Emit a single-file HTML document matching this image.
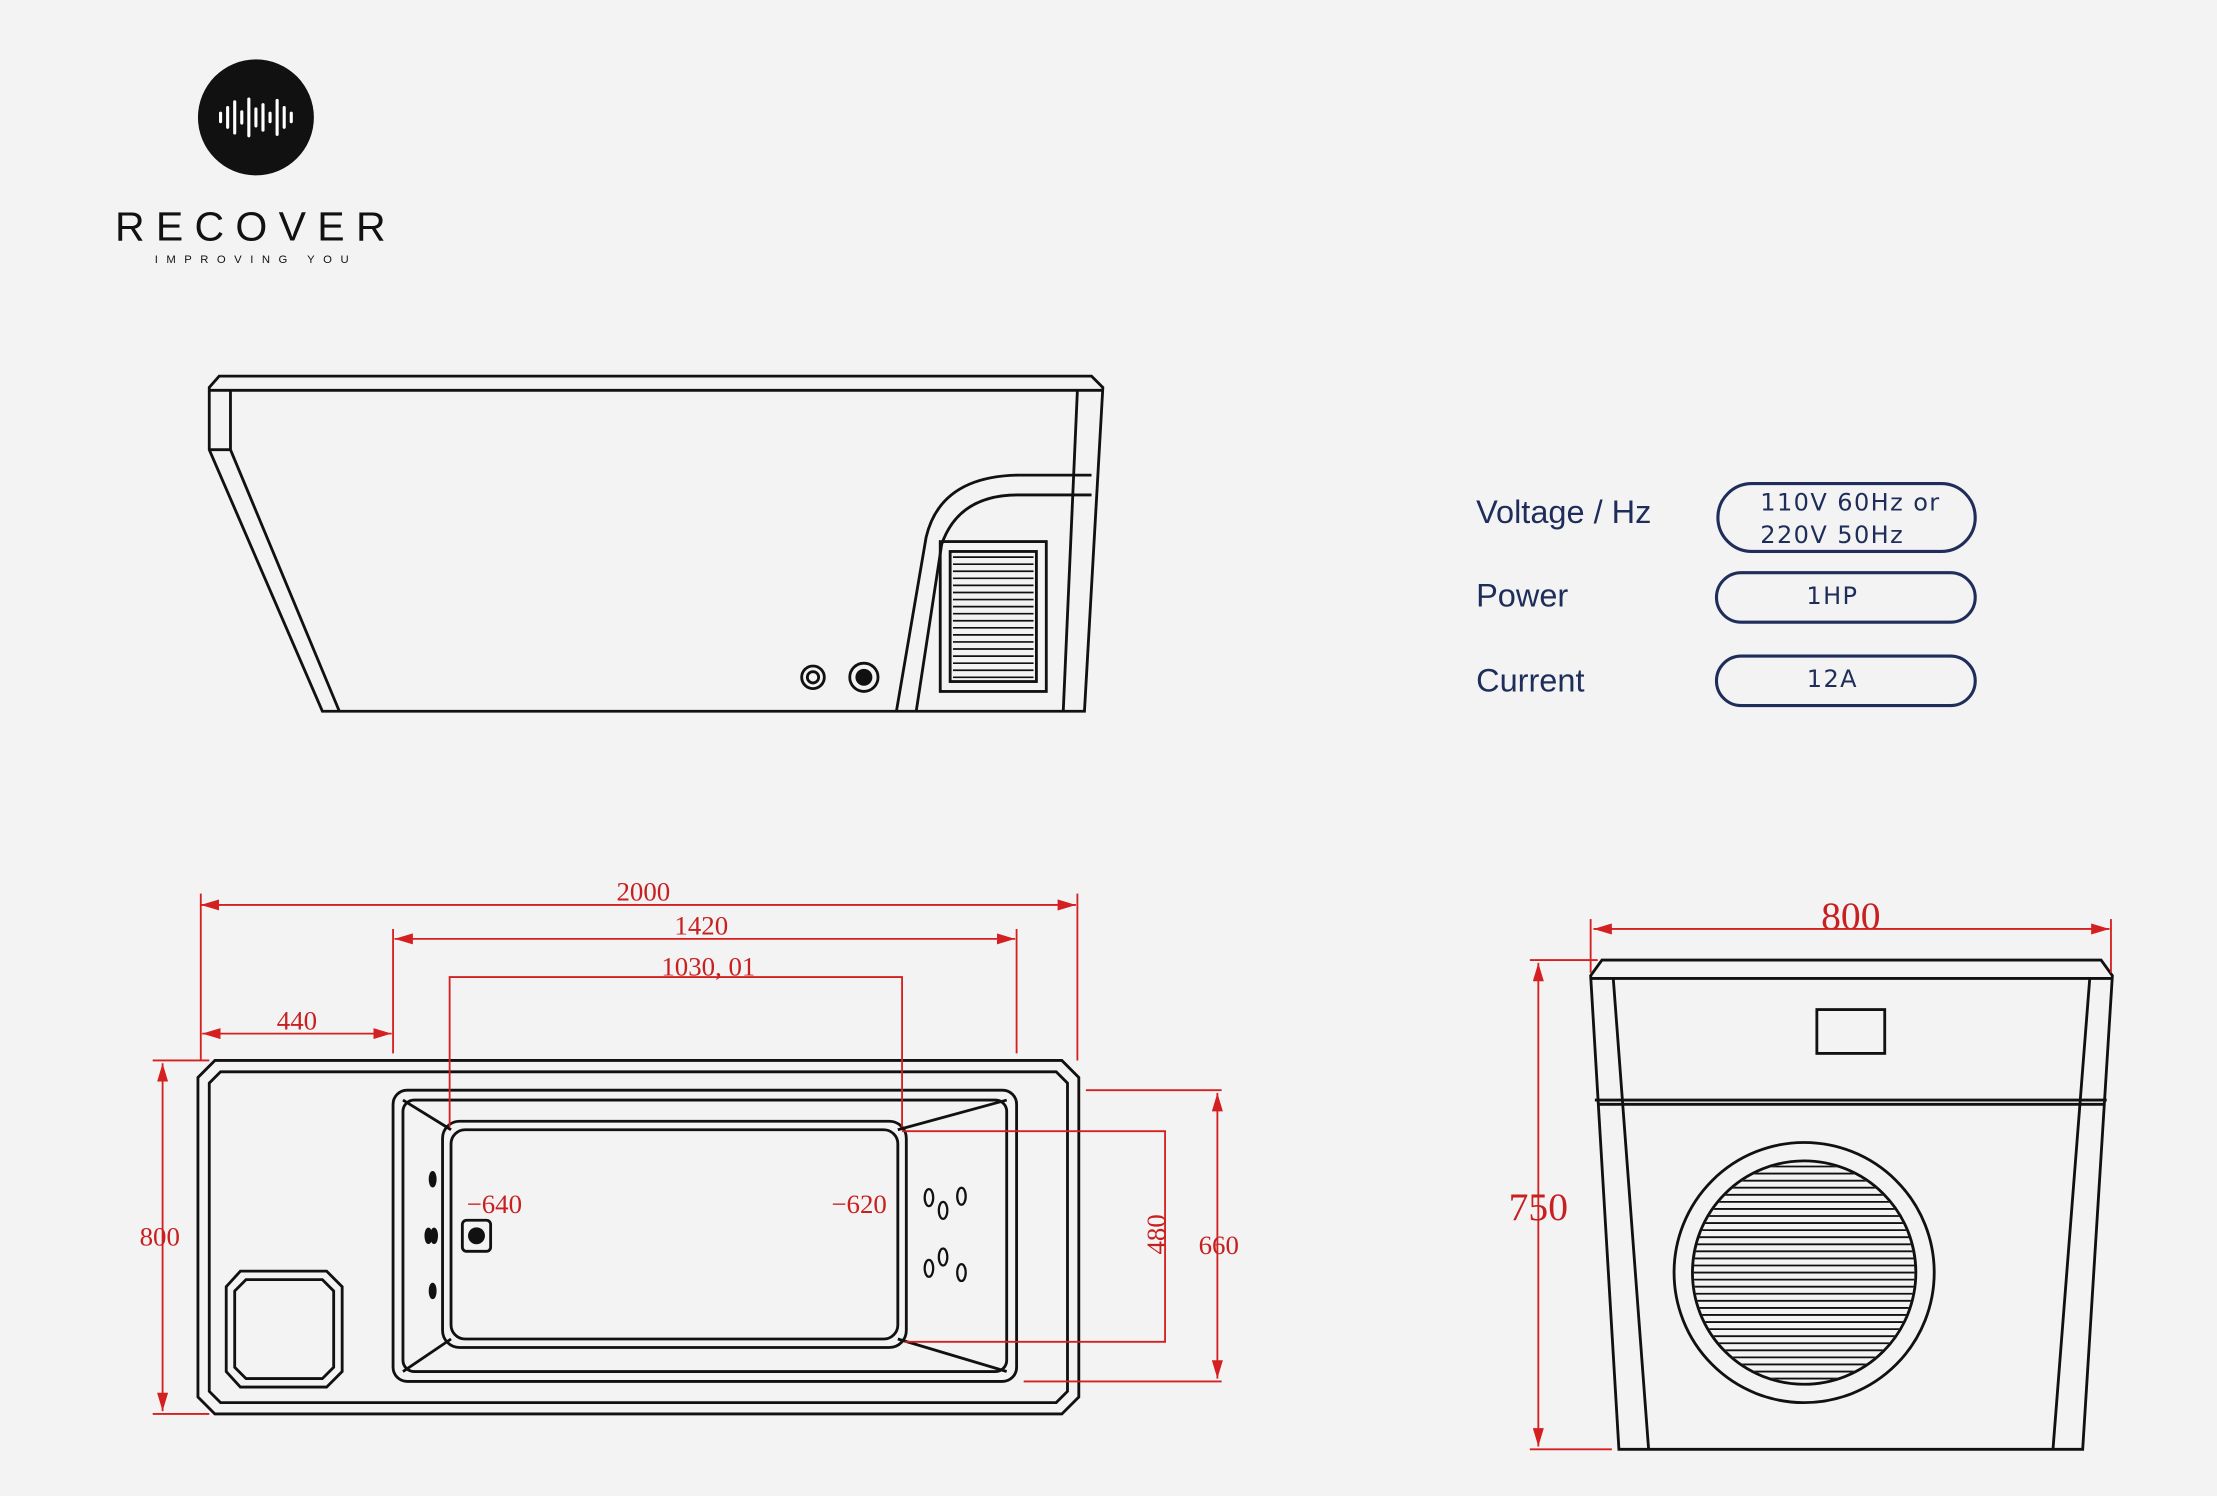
<!DOCTYPE html>
<html><head><meta charset="utf-8"><style>
html,body{margin:0;padding:0;background:#f3f3f3;}
svg{display:block}
.l{fill:none;stroke:#111;stroke-width:2}
.r{fill:none;stroke:#d42020;stroke-width:1.3}
.rt{fill:#c82020;font-family:"Liberation Serif",serif;font-size:19px}
.nv{fill:#1f2d5a;font-family:"Liberation Sans",sans-serif;font-size:23px}
.pl{fill:none;stroke:#1f2d5a;stroke-width:2.2}
.pt{fill:#1f2d5a;font-family:"DejaVu Sans","Liberation Sans",sans-serif;font-size:17px;letter-spacing:1px}
</style></head><body>
<svg width="2217" height="1496" viewBox="0 0 1568 1058" xmlns="http://www.w3.org/2000/svg">
<rect width="1568" height="1058" fill="#f3f3f3"/>
<defs>
<marker id="a" markerWidth="10" markerHeight="6" refX="10" refY="3" orient="auto-start-reverse"><path d="M0,0 L10,3 L0,6 Z" fill="#d42020"/></marker>
<clipPath id="cc"><circle cx="1276" cy="900" r="78"/></clipPath>
</defs>
<circle cx="181" cy="83" r="41" fill="#111"/>
<g stroke="#fff" stroke-width="2.2" stroke-linecap="round">
<line x1="156" y1="80" x2="156" y2="86"/><line x1="161" y1="76" x2="161" y2="90"/><line x1="166" y1="72" x2="166" y2="94"/>
<line x1="171" y1="79" x2="171" y2="87"/><line x1="176" y1="70" x2="176" y2="96"/><line x1="181" y1="77" x2="181" y2="89"/>
<line x1="186" y1="74" x2="186" y2="92"/><line x1="191" y1="80" x2="191" y2="86"/><line x1="196" y1="71" x2="196" y2="95"/>
<line x1="201" y1="76" x2="201" y2="90"/><line x1="206" y1="80" x2="206" y2="86"/></g>
<text x="181" y="170" text-anchor="middle" font-family="Liberation Sans,sans-serif" font-size="29" letter-spacing="8" fill="#111">RECOVER</text>
<text x="181" y="186" text-anchor="middle" font-family="Liberation Sans,sans-serif" font-size="8" letter-spacing="6" fill="#111">IMPROVING YOU</text>
<path class="l" d="M155,266 L772,266 L780,274 L767,503 L228,503 L148,318 L148,274 Z"/>
<path class="l" d="M148,276 L780,276"/>
<path class="l" d="M163,276 L163,318 L240,503"/>
<path class="l" d="M148,318 L163,318"/>
<path class="l" d="M762,276 L752,503"/>
<path class="l" d="M634,503 L655,380 Q665,337 720,336 L772,336"/>
<path class="l" d="M648,503 L666,385 Q678,350 720,350 L772,350"/>
<rect class="l" x="665" y="383" width="75" height="106"/>
<rect class="l" x="672" y="390" width="61" height="92"/>
<g stroke="#111" stroke-width="1.2">
<path d="M674,394H731M674,399H731M674,404H731M674,409H731M674,414H731M674,419H731M674,424H731M674,429H731M674,434H731M674,439H731M674,444H731M674,449H731M674,454H731M674,459H731M674,464H731M674,469H731M674,474H731M674,479H731"/></g>
<circle class="l" cx="575" cy="479" r="8"/><circle class="l" cx="575" cy="479" r="4"/>
<circle class="l" cx="611" cy="479" r="10"/><circle cx="611" cy="479" r="6" fill="#111"/>
<text class="nv" x="1044" y="370">Voltage / Hz</text>
<text class="nv" x="1044" y="429">Power</text>
<text class="nv" x="1044" y="489">Current</text>
<rect class="pl" x="1215" y="342" width="182" height="48" rx="24"/>
<text class="pt" x="1245" y="361">110V 60Hz  or</text>
<text class="pt" x="1245" y="384">220V 50Hz</text>
<rect class="pl" x="1214" y="405" width="183" height="35" rx="17.5"/>
<text class="pt" x="1296" y="427" text-anchor="middle">1HP</text>
<rect class="pl" x="1214" y="464" width="183" height="35" rx="17.5"/>
<text class="pt" x="1296" y="486" text-anchor="middle">12A</text>
<path class="l" d="M152,750 L751,750 L763,762 L763,988 L751,1000 L152,1000 L140,988 L140,762 Z"/>
<path class="l" d="M156,758 L747,758 L755,766 L755,984 L747,992 L156,992 L148,984 L148,766 Z"/>
<rect class="l" x="278" y="771" width="441" height="206" rx="10"/>
<rect class="l" x="285" y="778" width="427" height="192" rx="8"/>
<rect class="l" x="313" y="793" width="328" height="160" rx="12"/>
<rect class="l" x="319" y="799" width="316" height="148" rx="10"/>
<path class="l" d="M285,778 L319,799 M712,778 L635,799 M285,970 L319,947 M712,970 L635,947"/>
<path class="l" d="M160,910 L170,899 L231,899 L242,910 L242,970 L231,981 L170,981 L160,970 Z"/>
<path class="l" d="M166,913 L174,905 L228,905 L236,913 L236,967 L228,975 L174,975 L166,967 Z"/>
<rect x="327" y="863" width="20" height="22" rx="3" fill="none" stroke="#111" stroke-width="2"/>
<circle cx="337" cy="874" r="6" fill="#111"/>
<g fill="none" stroke="#111" stroke-width="1.6">
<ellipse cx="306" cy="834" rx="2" ry="5" fill="#111"/><ellipse cx="303" cy="874" rx="2" ry="5" fill="#111"/><ellipse cx="307" cy="874" rx="2" ry="5" fill="#111"/><ellipse cx="306" cy="913" rx="2" ry="5" fill="#111"/>
<ellipse cx="657" cy="847" rx="3" ry="6"/><ellipse cx="667" cy="856" rx="3" ry="6"/><ellipse cx="680" cy="846" rx="3" ry="6"/>
<ellipse cx="657" cy="897" rx="3" ry="6"/><ellipse cx="667" cy="889" rx="3" ry="6"/><ellipse cx="680" cy="900" rx="3" ry="6"/>
</g>
<g class="r">
<line x1="142" y1="640" x2="761" y2="640" marker-start="url(#a)" marker-end="url(#a)"/>
<line x1="142" y1="632" x2="142" y2="750"/><line x1="762" y1="632" x2="762" y2="750"/>
<line x1="279" y1="664" x2="718" y2="664" marker-start="url(#a)" marker-end="url(#a)"/>
<line x1="278" y1="657" x2="278" y2="745"/><line x1="719" y1="657" x2="719" y2="745"/>
<path d="M318,797 L318,691 L638,691 L638,797"/>
<line x1="143" y1="731" x2="277" y2="731" marker-start="url(#a)" marker-end="url(#a)"/>
<line x1="115" y1="752" x2="115" y2="998" marker-start="url(#a)" marker-end="url(#a)"/>
<line x1="108" y1="750" x2="148" y2="750"/><line x1="108" y1="1000" x2="148" y2="1000"/>
<line x1="768" y1="771" x2="864" y2="771"/><line x1="724" y1="977" x2="864" y2="977"/>
<line x1="861" y1="773" x2="861" y2="975" marker-start="url(#a)" marker-end="url(#a)"/>
<path d="M638,800 L824,800 L824,949 L640,949"/>
</g>
<text class="rt" x="455" y="637" text-anchor="middle">2000</text>
<text class="rt" x="496" y="661" text-anchor="middle">1420</text>
<text class="rt" x="501" y="690" text-anchor="middle">1030, 01</text>
<text class="rt" x="210" y="728" text-anchor="middle">440</text>
<text class="rt" x="113" y="881" text-anchor="middle">800</text>
<text class="rt" x="330" y="858">−640</text>
<text class="rt" x="588" y="858">−620</text>
<text class="rt" x="862" y="887" text-anchor="middle">660</text>
<text class="rt" transform="translate(824,873) rotate(-90)" text-anchor="middle">480</text>
<path class="l" d="M1133,679 L1486,679 L1494,690 L1473,1025 L1145,1025 L1125,690 Z"/>
<path class="l" d="M1125,692 L1494,692"/>
<path class="l" d="M1141,692 L1166,1025 M1478,692 L1452,1025"/>
<path class="l" d="M1130,781 L1488,781"/>
<path class="l" d="M1128,778 L1490,778"/>
<rect class="l" x="1285" y="714" width="48" height="31"/>
<circle class="l" cx="1276" cy="900" r="92"/>
<circle class="l" cx="1276" cy="900" r="79"/>
<g clip-path="url(#cc)" stroke="#111" stroke-width="1.3">
<path d="M1190,825H1360M1190,830H1360M1190,835H1360M1190,840H1360M1190,845H1360M1190,850H1360M1190,855H1360M1190,860H1360M1190,865H1360M1190,870H1360M1190,875H1360M1190,880H1360M1190,885H1360M1190,890H1360M1190,895H1360M1190,900H1360M1190,905H1360M1190,910H1360M1190,915H1360M1190,920H1360M1190,925H1360M1190,930H1360M1190,935H1360M1190,940H1360M1190,945H1360M1190,950H1360M1190,955H1360M1190,960H1360M1190,965H1360M1190,970H1360M1190,975H1360"/></g>
<g class="r">
<line x1="1127" y1="657" x2="1492" y2="657" marker-start="url(#a)" marker-end="url(#a)"/>
<line x1="1125" y1="650" x2="1125" y2="688"/><line x1="1493" y1="650" x2="1493" y2="688"/>
<line x1="1088" y1="681" x2="1088" y2="1023" marker-start="url(#a)" marker-end="url(#a)"/>
<line x1="1082" y1="679" x2="1130" y2="679"/><line x1="1082" y1="1025" x2="1140" y2="1025"/>
</g>
<text class="rt" x="1309" y="657" text-anchor="middle" style="font-size:28px">800</text>
<text class="rt" x="1088" y="863" text-anchor="middle" style="font-size:28px">750</text>
</svg>
</body></html>
